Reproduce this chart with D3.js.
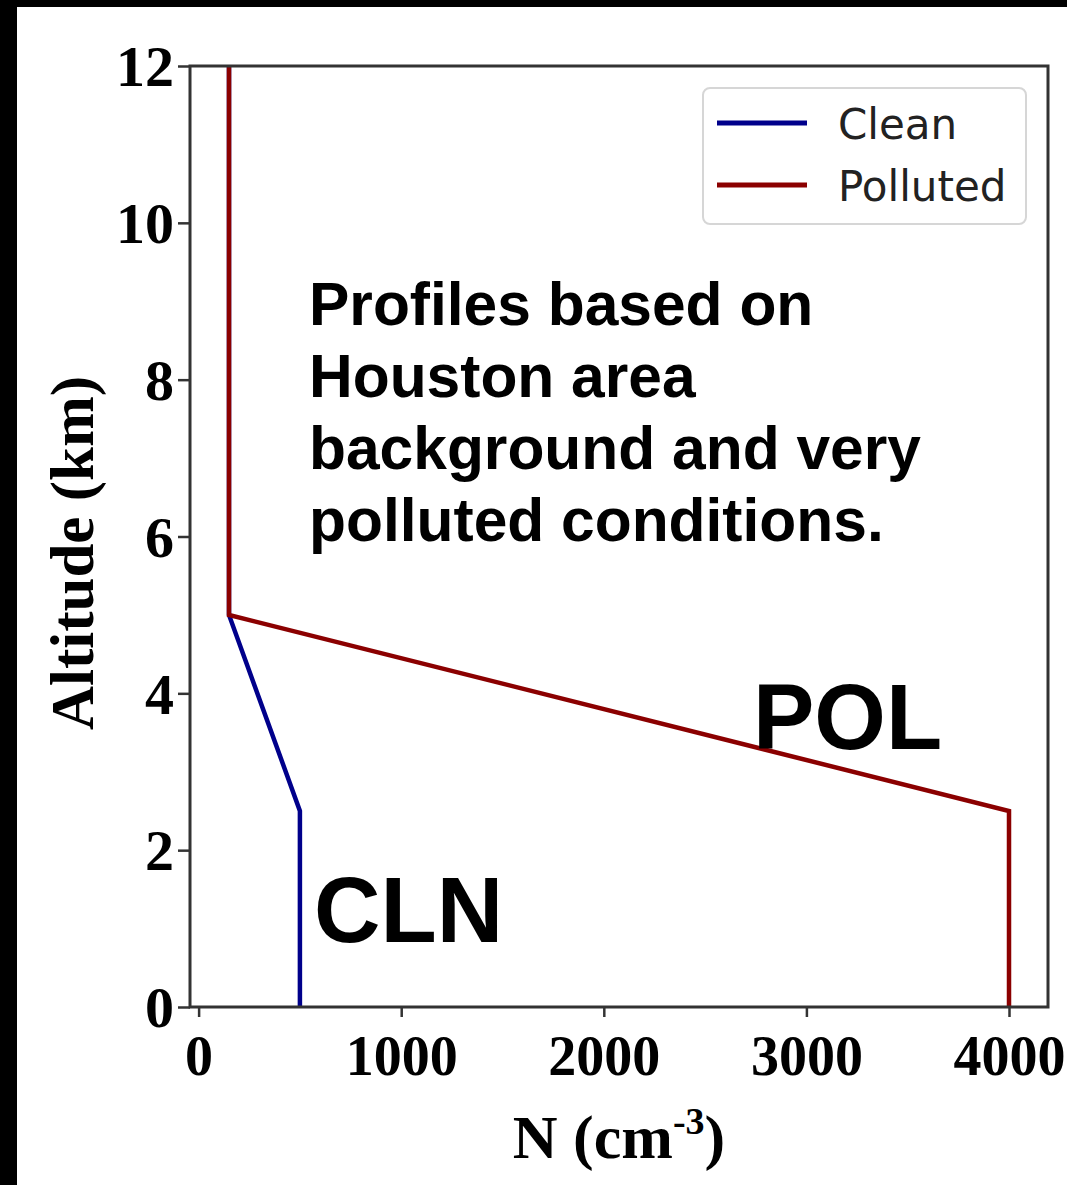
<!DOCTYPE html>
<html>
<head>
<meta charset="utf-8">
<script src="https://cdn.jsdelivr.net/npm/d3@7"></script>
<style>
  html, body { margin: 0; padding: 0; background: #000; }
  svg { display: block; }
</style>
</head>
<body>
<script>
// Vertical aerosol number-concentration profiles (cm^-3) by altitude (km)
const altitudeKm = [0, 2.5, 5, 12];
const cleanN = [500, 500, 150, 150];
const pollutedN = [4000, 4000, 150, 150];
const seriesNames = ["Clean", "Polluted"];
const seriesColors = ["#00008b", "#8b0000"];
const xTickValues = [0, 1000, 2000, 3000, 4000];
const yTickValues = [0, 2, 4, 6, 8, 10, 12];

const W = 1067, H = 1185;
const margin = { left: 190, right: 1048, top: 66, bottom: 1007 };

const svg = d3.select("body").append("svg").attr("width", W).attr("height", H);

// page background with dark frame on top and left edges
svg.append("rect").attr("width", W).attr("height", H).attr("fill", "#000");
svg.append("rect").attr("x", 17).attr("y", 7).attr("width", W - 17).attr("height", H - 7).attr("fill", "#fff");

const x = d3.scaleLinear().domain([-42.5, 4192.5]).range([margin.left, margin.right]);
const y = d3.scaleLinear().domain([0, 12]).range([margin.bottom, margin.top]);

const serif = "'Liberation Serif', 'DejaVu Serif', serif";
const sans = "'Liberation Sans', Arial, sans-serif";

// profile lines
const line = d3.line().x(d => x(d[0])).y(d => y(d[1]));
const series = [cleanN, pollutedN];
series.forEach((vals, i) => {
  const pts = vals.map((v, j) => [v, altitudeKm[j]]);
  svg.append("path")
    .attr("d", line(pts))
    .attr("fill", "none")
    .attr("stroke", seriesColors[i])
    .attr("stroke-width", 4.5)
    .attr("stroke-linejoin", "miter");
});

// axes frame
svg.append("rect")
  .attr("x", margin.left).attr("y", margin.top)
  .attr("width", margin.right - margin.left).attr("height", margin.bottom - margin.top)
  .attr("fill", "none").attr("stroke", "#333").attr("stroke-width", 3);

// x axis
const gx = svg.append("g").attr("transform", `translate(0,${margin.bottom})`)
  .call(d3.axisBottom(x).tickValues(xTickValues).tickSize(10).tickPadding(18).tickFormat(d3.format("d")));
gx.select(".domain").remove();
gx.selectAll(".tick line").attr("stroke", "#333").attr("stroke-width", 2.5);
gx.selectAll(".tick text").attr("font-family", serif).attr("font-weight", "bold")
  .attr("font-size", 56).attr("fill", "#000");

// y axis
const gy = svg.append("g").attr("transform", `translate(${margin.left},0)`)
  .call(d3.axisLeft(y).tickValues(yTickValues).tickSize(12).tickPadding(4).tickFormat(d3.format("d")));
gy.select(".domain").remove();
gy.selectAll(".tick line").attr("stroke", "#333").attr("stroke-width", 2.5);
gy.selectAll(".tick text").attr("font-family", serif).attr("font-weight", "bold")
  .attr("font-size", 58).attr("fill", "#000").attr("dy", "0.34em");

// axis titles
const xt = svg.append("text")
  .attr("x", (margin.left + margin.right) / 2).attr("y", 1158)
  .attr("text-anchor", "middle")
  .attr("font-family", serif).attr("font-weight", "bold").attr("font-size", 62).attr("fill", "#000");
xt.append("tspan").text("N (cm");
xt.append("tspan").attr("font-size", 38).attr("dy", -24).text("-3");
xt.append("tspan").attr("dy", 24).text(")");

svg.append("text")
  .attr("transform", "translate(93,553) rotate(-90)")
  .attr("text-anchor", "middle")
  .attr("font-family", serif).attr("font-weight", "bold").attr("font-size", 61).attr("fill", "#000")
  .text("Altitude (km)");

// legend
const lg = svg.append("g");
lg.append("rect")
  .attr("x", 703).attr("y", 88).attr("width", 323).attr("height", 136)
  .attr("rx", 7).attr("fill", "#fff").attr("stroke", "#d6d6d6").attr("stroke-width", 2);
seriesNames.forEach((name, i) => {
  const ly = 123 + i * 62;
  lg.append("line").attr("x1", 717).attr("x2", 807).attr("y1", ly).attr("y2", ly)
    .attr("stroke", seriesColors[i]).attr("stroke-width", 5);
  lg.append("text").attr("x", 838).attr("y", ly + 16)
    .attr("font-family", "'DejaVu Sans', sans-serif").attr("font-size", 42).attr("fill", "#222")
    .text(name);
});

// annotation
const note = ["Profiles based on", "Houston area", "background and very", "polluted conditions."];
svg.append("g").selectAll("text").data(note).join("text")
  .attr("x", 309).attr("y", (d, i) => 325 + i * 72)
  .attr("font-family", sans).attr("font-weight", "bold").attr("font-size", 60.5).attr("fill", "#000")
  .text(d => d);

svg.append("text").attr("x", 753).attr("y", 749)
  .attr("font-family", sans).attr("font-weight", "bold").attr("font-size", 92).attr("fill", "#000")
  .text("POL");
svg.append("text").attr("x", 314).attr("y", 942)
  .attr("font-family", sans).attr("font-weight", "bold").attr("font-size", 92).attr("fill", "#000")
  .text("CLN");
</script>
</body>
</html>
